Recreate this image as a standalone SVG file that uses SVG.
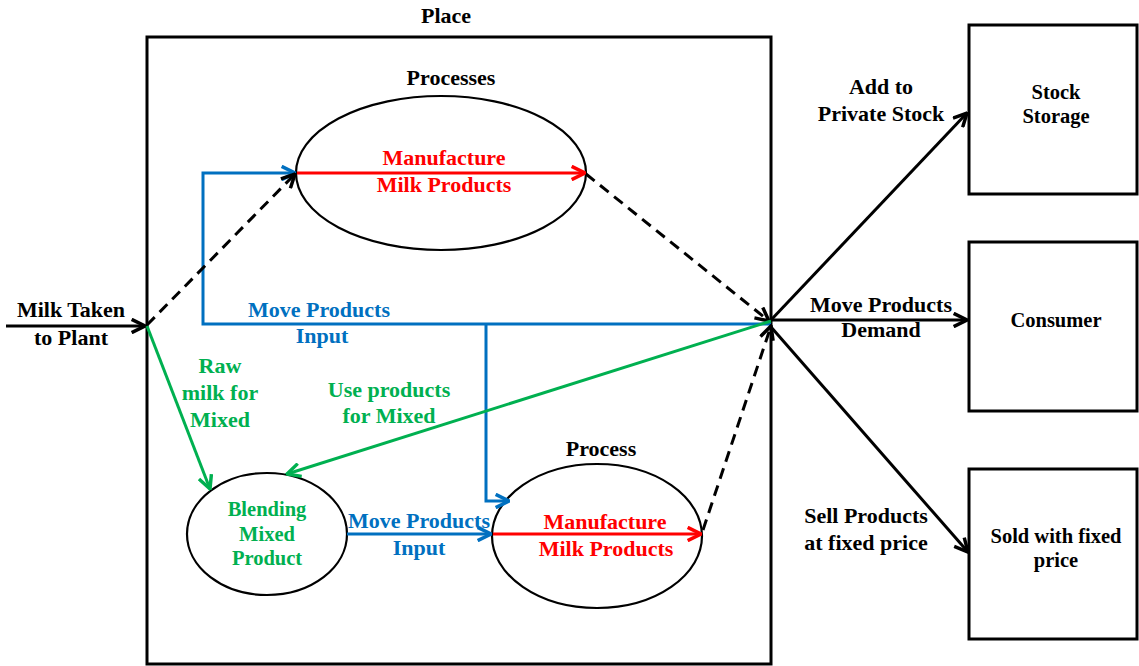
<svg xmlns="http://www.w3.org/2000/svg" width="1139" height="666" viewBox="0 0 1139 666">
<style>
text{font-family:"Liberation Serif","Times New Roman",serif;font-weight:bold;text-anchor:middle;}
.lbl{font-size:22px;fill:#000;}
.box{font-size:20.5px;fill:#000;}
.red{font-size:22px;fill:#FF0000;}
.blue{font-size:22px;fill:#0070C0;}
.green{font-size:22px;fill:#00B050;}
.node{fill:#fff;stroke:#000;stroke-width:3;}
.ell{fill:none;stroke:#000;stroke-width:2.2;}
.k{fill:none;stroke:#000;stroke-width:3;}
.kd{fill:none;stroke:#000;stroke-width:3;stroke-dasharray:11 7;}
.b{fill:none;stroke:#0070C0;stroke-width:3;}
.r{fill:none;stroke:#FF0000;stroke-width:3;}
.g{fill:none;stroke:#00B050;stroke-width:3;}
</style>
<defs>
<marker id="ak" markerUnits="userSpaceOnUse" markerWidth="16" markerHeight="16" viewBox="0 0 12 12" refX="11" refY="6" orient="auto"><path d="M1,1 L11,6 L1,11" fill="none" stroke="#000" stroke-width="2.6"/></marker>
<marker id="ab" markerUnits="userSpaceOnUse" markerWidth="16" markerHeight="16" viewBox="0 0 12 12" refX="11" refY="6" orient="auto"><path d="M1,1 L11,6 L1,11" fill="none" stroke="#0070C0" stroke-width="2.6"/></marker>
<marker id="ar" markerUnits="userSpaceOnUse" markerWidth="16" markerHeight="16" viewBox="0 0 12 12" refX="11" refY="6" orient="auto"><path d="M1,1 L11,6 L1,11" fill="none" stroke="#FF0000" stroke-width="2.6"/></marker>
<marker id="ag" markerUnits="userSpaceOnUse" markerWidth="16" markerHeight="16" viewBox="0 0 12 12" refX="11" refY="6" orient="auto"><path d="M1,1 L11,6 L1,11" fill="none" stroke="#00B050" stroke-width="2.6"/></marker>
</defs>
<rect width="1139" height="666" fill="#fff"/>

<g id="place">
<rect class="k" x="147" y="37" width="624" height="627"/>
<text class="lbl" x="446" y="23">Place</text>
</g>

<g id="processes">
<ellipse class="ell" cx="441" cy="173" rx="145" ry="77"/>
<text class="lbl" x="451" y="85">Processes</text>
<text class="red" x="444" y="165">Manufacture</text>
<text class="red" x="444" y="192">Milk Products</text>
</g>

<g id="blending">
<ellipse class="ell" cx="267" cy="534" rx="80" ry="61"/>
<text class="green" style="font-size:20.5px" x="267" y="516">Blending</text>
<text class="green" style="font-size:20.5px" x="267" y="541">Mixed</text>
<text class="green" style="font-size:20.5px" x="267" y="565">Product</text>
</g>

<g id="process">
<ellipse class="ell" cx="597" cy="536" rx="105" ry="72"/>
<text class="lbl" x="601" y="456">Process</text>
<text class="red" x="605" y="529">Manufacture</text>
<text class="red" x="606" y="556">Milk Products</text>
</g>

<g id="stock">
<rect class="node" x="969" y="25" width="168" height="169"/>
<text class="box" x="1056" y="99">Stock</text>
<text class="box" x="1056" y="123">Storage</text>
</g>

<g id="consumer">
<rect class="node" x="969" y="242" width="168" height="169"/>
<text class="box" x="1056" y="327">Consumer</text>
</g>

<g id="sold">
<rect class="node" x="969" y="469" width="168" height="170"/>
<text class="box" x="1056" y="543">Sold with fixed</text>
<text class="box" x="1056" y="567">price</text>
</g>

<g id="connectors">
<path class="k" d="M6,326 H145" marker-end="url(#ak)"/>
<path class="b" d="M771,324 H203 V173 H295" marker-end="url(#ab)"/>
<path class="b" d="M486,324 V501 H509" marker-end="url(#ab)"/>
<path class="b" d="M347,534 H491" marker-end="url(#ab)"/>
<path class="r" d="M297,173 H585" marker-end="url(#ar)"/>
<path class="r" d="M493,534 H701" marker-end="url(#ar)"/>
<path class="kd" d="M147,325 L295,174" marker-end="url(#ak)"/>
<path class="kd" d="M586,174 L769,321" marker-end="url(#ak)"/>
<path class="kd" d="M703,530 L771,326" marker-end="url(#ak)"/>
<path class="g" d="M147,326 L210,489" marker-end="url(#ag)"/>
<path class="g" d="M771,321 L287,474" marker-end="url(#ag)"/>
<path class="k" d="M771,320 L967,113" marker-end="url(#ak)"/>
<path class="k" d="M771,320 H967" marker-end="url(#ak)"/>
<path class="k" d="M771,327 L968,552" marker-end="url(#ak)"/>

<text class="lbl" x="71" y="317">Milk Taken</text>
<text class="lbl" x="71" y="345">to Plant</text>
<text class="blue" x="319" y="317">Move Products</text>
<text class="blue" x="322" y="343">Input</text>
<text class="green" x="220" y="373">Raw</text>
<text class="green" x="220" y="400">milk for</text>
<text class="green" x="220" y="427">Mixed</text>
<text class="green" x="389" y="397">Use products</text>
<text class="green" x="389" y="423">for Mixed</text>
<text class="blue" x="419" y="528">Move Products</text>
<text class="blue" x="419" y="555">Input</text>
<text class="lbl" x="881" y="94">Add to</text>
<text class="lbl" x="881" y="121">Private Stock</text>
<text class="lbl" x="881" y="312">Move Products</text>
<text class="lbl" x="881" y="337">Demand</text>
<text class="lbl" x="866" y="523">Sell Products</text>
<text class="lbl" x="866" y="550">at fixed price</text>
</g>
</svg>
